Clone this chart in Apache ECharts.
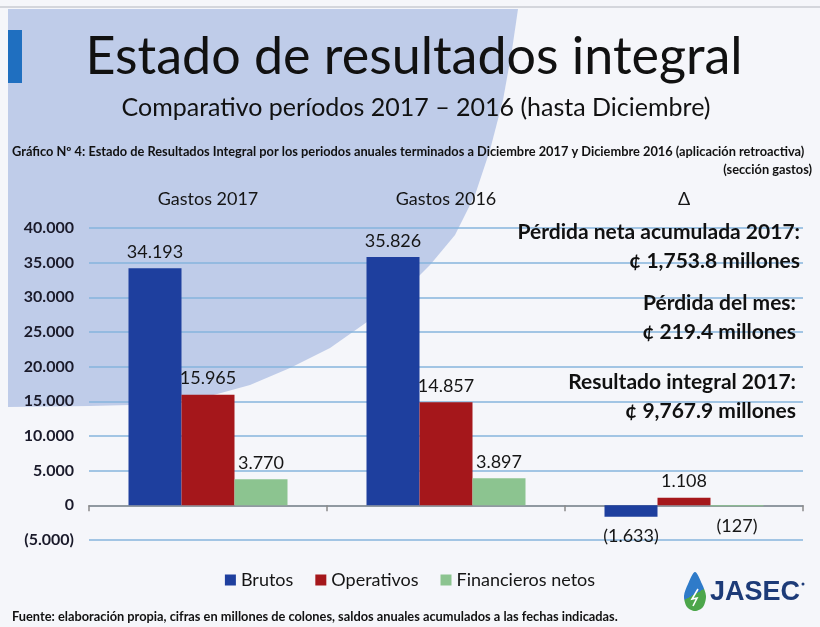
<!DOCTYPE html>
<html>
<head>
<meta charset="utf-8">
<title>Estado de resultados integral</title>
<script src="https://cdn.jsdelivr.net/npm/echarts@6/dist/echarts.min.js"></script>
<style>
    html, body { margin: 0; padding: 0; }
    #chart { width: 820px; height: 627px; }
</style>
</head>
<body>
<div id="chart"></div>
<script>
/* ------------------------------------ 数据 ------------------------------------ */
let categories = ['Gastos 2017', 'Gastos 2016', 'Δ'];
let brutos = [34193, 35826, -1633];
let operativos = [15965, 14857, 1108];
let financieros = [3770, 3897, -127];
let yTicks = { min: -5000, max: 40000, interval: 5000 };

let notas = [
    'Pérdida neta acumulada 2017:',
    '¢ 1,753.8 millones',
    'Pérdida del mes:',
    '¢ 219.4 millones',
    'Resultado integral 2017:',
    '¢ 9,767.9 millones'
];

/* ------------------------------------ 格式 ------------------------------------ */
let fmt = function (v) {
    let s = Math.abs(v).toString().replace(/\B(?=(\d{3})+(?!\d))/g, '.');
    return v < 0 ? '(' + s + ')' : s;
};

let font = 'Lato, "Open Sans", sans-serif';

let barData = function (arr) {
    return arr.map(function (v) {
        return {
            value: v,
            label: { position: v < 0 ? 'bottom' : 'top', distance: v < 0 ? 11 : 7 }
        };
    });
};

let makeSeries = function (name, arr, color) {
    return {
        name: name,
        type: 'bar',
        barWidth: 53,
        barGap: '0%',
        itemStyle: { color: color },
        label: {
            show: true,
            fontFamily: font,
            fontSize: 18,
            color: '#151515',
            formatter: function (p) { return fmt(p.value); }
        },
        data: barData(arr)
    };
};

/* ------------------------------------ 装饰 ------------------------------------ */
let txt = function (text, x, y, size, weight, align, color) {
    return {
        type: 'text',
        x: x,
        y: y,
        z: 10,
        style: {
            text: text,
            fontFamily: font,
            fontSize: size,
            fontWeight: weight,
            fill: color || '#111',
            textAlign: align,
            textVerticalAlign: 'middle'
        }
    };
};

let graphics = [
    {
        type: 'polygon',
        z: -10,
        shape: {
            points: [[8, 9], [518, 9], [512, 50], [503, 100], [490, 150], [475, 195], [455, 235],
                     [430, 265], [400, 295], [367, 322], [330, 348], [290, 368], [250, 385],
                     [210, 396], [170, 402], [130, 405], [90, 406], [8, 407]]
        },
        style: { fill: '#bfcce9' }
    },
    { type: 'rect', z: -9, shape: { x: 8, y: 30, width: 14, height: 53 }, style: { fill: '#1f6fc0' } },
    { type: 'line', z: -9, shape: { x1: 0, y1: 7, x2: 820, y2: 7 }, style: { stroke: '#c9cbd2', lineWidth: 1.5 } },
    txt('Estado de resultados integral', 414, 57, 52, 'normal', 'center'),
    txt('Comparativo períodos 2017 – 2016 (hasta Diciembre)', 416, 108, 25, 'normal', 'center'),
    txt('Gráfico Nº 4: Estado de Resultados Integral por los periodos anuales terminados a Diciembre 2017 y Diciembre 2016 (aplicación retroactiva)',
        12, 152, 12.8, 'bold', 'left'),
    txt('(sección gastos)', 812, 170, 12.8, 'bold', 'right'),
    txt(notas[0], 800, 232, 21, 'bold', 'right'),
    txt(notas[1], 800, 261, 21, 'bold', 'right'),
    txt(notas[2], 796, 303, 21, 'bold', 'right'),
    txt(notas[3], 796, 332, 21, 'bold', 'right'),
    txt(notas[4], 796, 382, 21, 'bold', 'right'),
    txt(notas[5], 796, 411, 21, 'bold', 'right'),
    txt('Fuente: elaboración propia, cifras en millones de colones, saldos anuales acumulados a las fechas indicadas.',
        12, 617, 12.8, 'bold', 'left'),
    {
        type: 'polygon',
        z: 10,
        shape: {
            points: [[695, 572], [702, 584], [706, 596], [703, 607], [695, 611], [687, 607], [684, 596], [688, 584]],
            smooth: 0.3
        },
        style: {
            fill: {
                type: 'linear', x: 0, y: 0, x2: 1, y2: 1,
                colorStops: [
                    { offset: 0, color: '#2f7bc9' }, { offset: 0.55, color: '#2f7bc9' },
                    { offset: 0.55, color: '#4ca64a' }, { offset: 1, color: '#4ca64a' }
                ]
            }
        }
    },
    {
        type: 'polyline',
        z: 11,
        shape: { points: [[698, 589], [692, 599], [697, 598], [693, 606]] },
        style: { stroke: '#ffffff', lineWidth: 1.6, fill: null }
    },
    {
        type: 'text', x: 710, y: 593, z: 10,
        style: {
            text: 'JASEC', fontFamily: '"Liberation Sans", Arial, sans-serif', fontSize: 27,
            fontWeight: 'bold', fill: '#1d3b78', textVerticalAlign: 'middle'
        }
    },
    { type: 'circle', z: 10, shape: { cx: 803, cy: 584, r: 1.5 }, style: { fill: '#1d3b78' } }
];

/* ------------------------------------ 配置 ------------------------------------ */
let option = {
    backgroundColor: '#f5f6fa',
    animation: false,
    grid: { left: 89, right: 17, top: 228, bottom: 87 },
    legend: {
        top: 566,
        left: 'center',
        itemWidth: 11,
        itemHeight: 11,
        itemGap: 22,
        icon: 'rect',
        textStyle: { fontFamily: font, fontSize: 18, color: '#151515' },
        data: ['Brutos', 'Operativos', 'Financieros netos']
    },
    xAxis: [
        {
            type: 'category',
            data: categories,
            axisLine: { onZero: true, lineStyle: { color: '#8a8a8a', width: 1.5 } },
            axisTick: { show: true, length: 6, lineStyle: { color: '#8a8a8a', width: 1.5 } },
            axisLabel: { show: false }
        },
        {
            type: 'category',
            position: 'top',
            data: categories,
            axisLine: { show: false },
            axisTick: { show: false },
            axisLabel: { margin: 20, fontFamily: font, fontSize: 18, color: '#151515' }
        }
    ],
    yAxis: {
        type: 'value',
        min: yTicks.min,
        max: yTicks.max,
        interval: yTicks.interval,
        axisLine: { show: false },
        axisTick: { show: false },
        splitLine: { lineStyle: { color: '#86b4dd', width: 1.5 } },
        axisLabel: {
            margin: 15,
            fontFamily: font,
            fontSize: 16,
            fontWeight: 'bold',
            color: '#1a1a2a',
            formatter: fmt
        }
    },
    series: [
        makeSeries('Brutos', brutos, '#1e3f9e'),
        makeSeries('Operativos', operativos, '#a5171b'),
        makeSeries('Financieros netos', financieros, '#8cc490')
    ],
    graphic: graphics
};

echarts.init(document.querySelector('#chart')).setOption(option);
</script>
</body>
</html>
